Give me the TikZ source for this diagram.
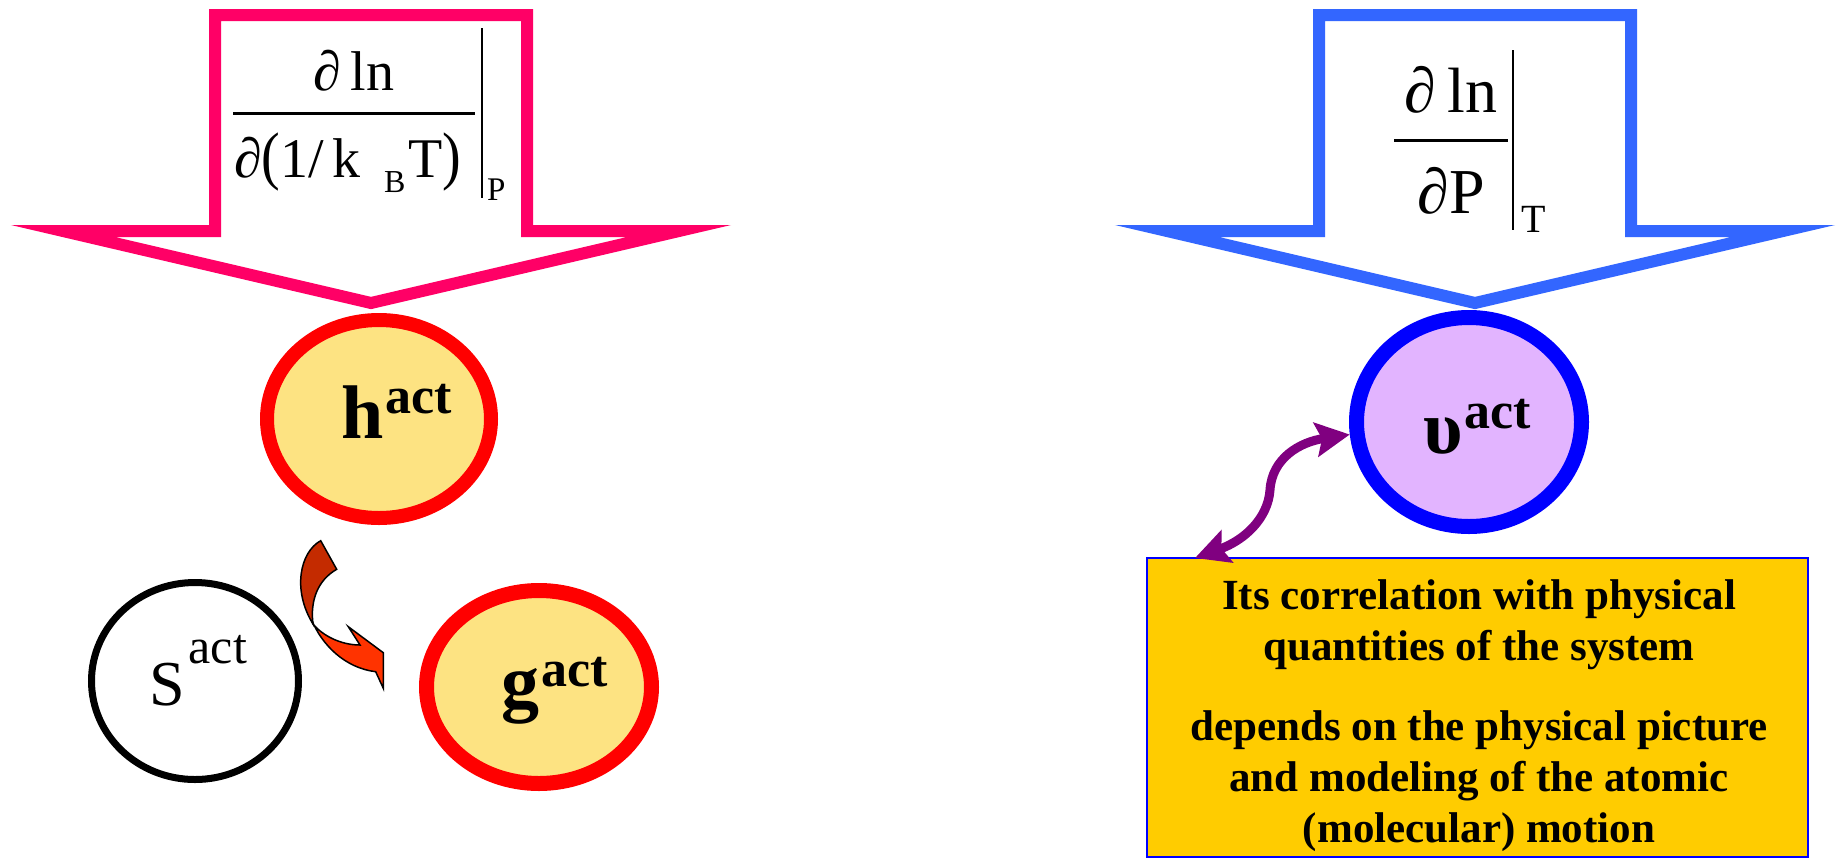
\documentclass[tikz,border=0pt]{standalone}
\usepackage{fontspec}
\usepackage{graphicx}
\setmainfont{Liberation Serif}
\usetikzlibrary{shapes.geometric,arrows.meta}
\definecolor{pinkc}{HTML}{FF0066}
\definecolor{bluearr}{HTML}{3366FF}
\definecolor{yel}{HTML}{FDE382}
\definecolor{lilac}{HTML}{E2B4FF}
\definecolor{goldbox}{HTML}{FFCC00}
\definecolor{purp}{HTML}{800080}
\definecolor{darkred}{HTML}{C42B00}
\definecolor{orng}{HTML}{FF3300}
\tikzset{
  bigarrow/.style={line width=12pt, line join=miter, fill=white},
  redell/.style={ellipse, draw=red, fill=yel, line width=14pt, inner sep=0pt},
  lbl/.style={inner sep=0pt, anchor=base west},
  fracbar/.style={line width=3pt},
  evalbar/.style={line width=2.5pt},
  ribbon/.style={draw=black, line width=1.5pt, line join=miter},
  dbl/.style={purp, line width=9pt, {Stealth[length=34pt,width=34pt,inset=6pt]}-{Stealth[length=34pt,width=34pt,inset=6pt]}}
}
\begin{document}
\begin{tikzpicture}[x=1pt,y=-1pt]
\useasboundingbox (0,0) rectangle (1841,860);
\fill[white] (0,0) rectangle (1841,860);

% big arrows
\draw[bigarrow, draw=pinkc] (215,231) -- (215,15) -- (527,15) -- (527,231) -- (679,231) -- (371,303) -- (63,231) -- cycle;
\draw[bigarrow, draw=bluearr] (1319,231) -- (1319,15) -- (1631,15) -- (1631,231) -- (1783,231) -- (1475,303) -- (1167,231) -- cycle;

% left fraction
\node[lbl, anchor=base] (numL) at (354,90) {\fontsize{56}{60}\selectfont ∂\,ln};
\draw[fracbar] (233,113) -- (475,113);
\node[lbl] (denL) at (234,177) {\fontsize{56}{60}\selectfont ∂\scalebox{1}[1.15]{(}1/\kern8pt k};
\node[lbl] (subB) at (384,192) {\fontsize{32}{32}\selectfont B};
\node[lbl] (denL2) at (408,177) {\fontsize{56}{60}\selectfont T\scalebox{1}[1.15]{)}};
\draw[evalbar] (482,28) -- (482,198);
\node[lbl] (subP) at (487,200) {\fontsize{33}{33}\selectfont P};

% right fraction
\node[lbl, anchor=base] (numR) at (1451,112) {\fontsize{64}{70}\selectfont ∂\,ln};
\draw[fracbar] (1394,140) -- (1508,140);
\node[lbl, anchor=base] (denR) at (1451,213) {\fontsize{64}{70}\selectfont ∂P};
\draw[evalbar] (1513,50) -- (1513,230);
\node[lbl] (subT) at (1521,232) {\fontsize{40}{40}\selectfont T};

% ellipses
\node[redell, minimum width=224pt, minimum height=198pt] (h) at (379,419) {};
\node[redell, line width=15pt, minimum width=225pt, minimum height=193pt] (g) at (539,687) {};
\node[ellipse, draw=black, fill=white, line width=7pt, inner sep=0pt, minimum width=207pt, minimum height=197pt] (s) at (195,681) {};
\node[ellipse, draw=blue, fill=lilac, line width=15pt, inner sep=0pt, minimum width=225pt, minimum height=209pt] (ups) at (1469,422) {};

\node[lbl] (ht) at (341,438) {\fontsize{76}{80}\selectfont\bfseries h\kern2pt\raisebox{25pt}{\fontsize{52}{52}\selectfont act}};
\node[lbl] (gt) at (501,707) {\fontsize{76}{80}\selectfont\bfseries g\kern2pt\raisebox{21pt}{\fontsize{52}{52}\selectfont act}};
\node[lbl] (st) at (149,705) {\fontsize{64}{70}\selectfont S\kern4pt\raisebox{42pt}{\fontsize{50}{50}\selectfont act}};
\node[lbl] (ut) at (1423,453) {\fontsize{76}{80}\selectfont\bfseries υ\kern2pt\raisebox{25pt}{\fontsize{52}{52}\selectfont act}};

% red ribbon arrow
\filldraw[ribbon, fill=orng] (311.7,620) .. controls (322,645) and (345,668) .. (375.7,671.7) -- (383.3,688.3) -- (383.3,652.7) -- (348.3,626.7) -- (360,645) .. controls (340,645) and (322,635) .. (313,624) -- cycle;
\filldraw[ribbon, fill=darkred] (320.7,540.7) -- (336.7,569.3) .. controls (318,580) and (310,600) .. (313,624) .. controls (292,590) and (300,552) .. (320.7,540.7) -- cycle;

% box
\node[draw=blue, fill=goldbox, line width=2.5pt, outer sep=0pt, inner sep=0pt, anchor=north west, minimum width=661pt, minimum height=299pt] (box) at (1147,558) {};
\node[anchor=north, align=center, inner sep=0pt, font=\fontsize{43}{51}\selectfont\bfseries] (boxtext) at (1479,579) {Its correlation with physical\\quantities of the system\\[29pt]depends on the physical picture\\and modeling of the atomic\\(molecular) motion};

% purple double arrow
\draw[dbl] ([xshift=48pt]box.north west) .. controls (1245,540) and (1268,518) .. (1270,490) .. controls (1272,458) and (1300,442) .. (ups.186);
\end{tikzpicture}
\end{document}
